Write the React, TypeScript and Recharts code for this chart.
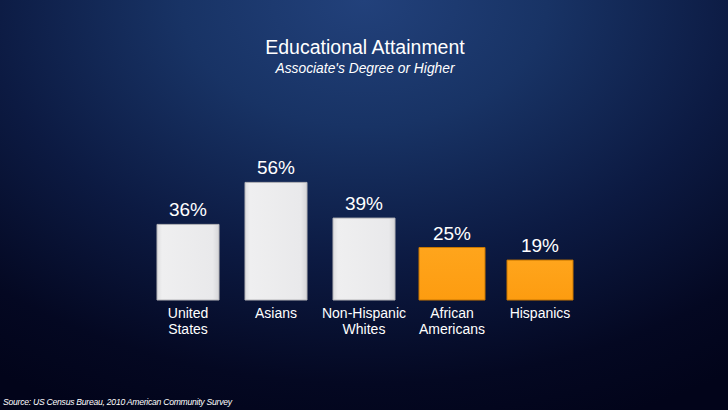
import { BarChart, Bar, XAxis, YAxis, Cell, LabelList, Rectangle } from "recharts"

const categories = ["United States", "Asians", "Non-Hispanic Whites", "African Americans", "Hispanics"]
const tickLines = [["United", "States"], ["Asians"], ["Non-Hispanic", "Whites"], ["African", "Americans"], ["Hispanics"]]
const values = [36, 56, 39, 25, 19]
const highlighted = [false, false, false, true, true]

const data = categories.map((name, i) => ({ name, value: values[i] }))

const FONT = '"Liberation Sans", Arial, Helvetica, sans-serif'

function CategoryTick(props: any) {
  const { x, y, index } = props
  const lines = tickLines[index] ?? []
  return (
    <text x={x} y={y} textAnchor="middle" fill="#ffffff" fontSize={14} fontFamily={FONT}>
      {lines.map((l, i) => (
        <tspan key={i} x={x} dy={i === 0 ? 10 : 16}>
          {l}
        </tspan>
      ))}
    </text>
  )
}

// orange bars are drawn a little wider than the grey ones
function BarShape(props: any) {
  const { x, y, width, height, index } = props
  const hi = highlighted[index]
  const grow = hi ? 2 : 0
  return (
    <Rectangle
      x={x - grow}
      y={y}
      width={width + grow * 2}
      height={height}
      fill={hi ? "url(#gOrange)" : "url(#gWhite)"}
      stroke={hi ? "#c97700" : "#b4b4b8"}
      strokeWidth={1}
    />
  )
}

export default function App() {
  return (
    <div
      style={{
        position: "absolute",
        left: 0,
        top: 0,
        width: 728,
        height: 410,
        overflow: "hidden",
        fontFamily: FONT,
        background:
          "radial-gradient(ellipse 90% 110% at 50% 0%, #22417b 0%, #183365 28%, #0c1a42 58%, #040822 85%, #02041a 100%)",
      }}
    >
      <div style={{ position: "absolute", top: 36, left: 1, width: 728, textAlign: "center", color: "#fff", fontSize: 19.5 }}>
        Educational Attainment
      </div>
      <div
        style={{
          position: "absolute",
          top: 61,
          left: 1,
          width: 728,
          textAlign: "center",
          color: "#fff",
          fontSize: 13.8,
          fontStyle: "italic",
        }}
      >
        Associate's Degree or Higher
      </div>
      <div
        style={{
          position: "absolute",
          left: 3,
          top: 397,
          color: "#fff",
          fontSize: 8.6,
          fontStyle: "italic",
          letterSpacing: -0.25,
          whiteSpace: "nowrap",
        }}
      >
        Source: US Census Bureau, 2010 American Community Survey
      </div>
      <BarChart
        width={728}
        height={410}
        data={data}
        margin={{ top: 174, right: 144, left: 144, bottom: 70 }}
        barCategoryGap={0}
        style={{ position: "absolute", left: 0, top: 0 }}
      >
        <defs>
          <linearGradient id="gWhite" x1="0" y1="0" x2="1" y2="0">
            <stop offset="0%" stopColor="#dedee0" />
            <stop offset="8%" stopColor="#efeff0" />
            <stop offset="90%" stopColor="#e9e9eb" />
            <stop offset="100%" stopColor="#d6d6d9" />
          </linearGradient>
          <linearGradient id="gOrange" x1="0" y1="0" x2="0" y2="1">
            <stop offset="0%" stopColor="#ffa51c" />
            <stop offset="100%" stopColor="#fd9c10" />
          </linearGradient>
        </defs>
        <XAxis
          dataKey="name"
          axisLine={false}
          tickLine={false}
          interval={0}
          height={40}
          tick={<CategoryTick />}
        />
        <YAxis hide domain={[0, 60]} />
        <Bar dataKey="value" barSize={62} isAnimationActive={false} shape={<BarShape />}>
          {data.map((d) => (
            <Cell key={d.name} />
          ))}
          <LabelList
            dataKey="value"
            position="top"
            offset={8}
            formatter={(v: any) => `${v}%`}
            style={{ fill: "#ffffff", fontSize: 19, fontFamily: FONT }}
          />
        </Bar>
      </BarChart>
    </div>
  )
}
